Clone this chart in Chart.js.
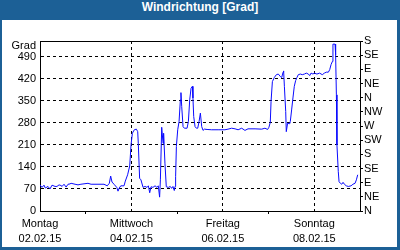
<!DOCTYPE html>
<html>
<head>
<meta charset="utf-8">
<script src="https://cdn.jsdelivr.net/npm/chart.js@4"></script>
<style>
body { margin: 0; background: #fff; }
#frame { position: relative; width: 400px; height: 250px; background: #1c6096; }
#title { position: absolute; left: 0; top: 0; width: 400px; height: 20px; line-height: 20px;
         text-align: center; color: #fff; font: bold 12px "Liberation Sans", sans-serif; }
#box { position: absolute; left: 2px; top: 20px; width: 395px; height: 227px; background: #fff; }
</style>
</head>
<body>
<div id="frame">
  <div id="title">Windrichtung [Grad]</div>
  <div id="box"><canvas id="windChart" width="395" height="227"></canvas></div>
</div>
<script>
// hours since Monday 02.02.15 00:00
const hours = [0, 1.05, 2.1, 2.8, 4.2, 5.25, 6.3, 7.9, 8.9, 10.0, 11.0, 11.6, 12.6, 13.7, 14.7, 15.75, 16.3, 18.4, 19.95, 21.5,
  25.2, 26.8, 30.45, 33.6, 35.3, 36.4, 37.1, 37.8, 38.85, 40.3, 40.95, 41.6, 42.4, 44.1, 44.8, 46.0, 47.1, 47.8, 48.5, 49.5,
  50.6, 51.3, 51.6, 52.3, 53.0, 54.1, 55.1, 56.2, 56.9, 57.6, 58.3, 59.3, 60.4, 61.4, 62.1, 62.8, 63.2, 63.9, 64.6, 64.9,
  65.6, 66.3, 67.4, 68.4, 69.1, 69.8, 70.5, 70.9, 71.2, 71.6, 72.3, 73.0, 73.7, 74.0, 74.4, 75.1, 75.8, 77.2, 77.9, 78.6,
  79.3, 80.0, 80.3, 80.7, 81.4, 82.1, 82.8, 83.5, 84.2, 84.9, 85.6, 86.3, 87.7, 90.1, 93.5, 97.1, 98.7, 100.6, 102.4, 104.0,
  105.9, 107.6, 109.2, 112.9, 116.4, 118.1, 119.5, 120.2, 120.9, 121.3, 122.0, 123.0, 124.1, 125.1, 126.2, 126.9, 127.6, 127.9, 128.3, 129.0,
  129.3, 130.0, 131.1, 131.4, 132.1, 132.8, 133.5, 134.2, 134.9, 135.6, 136.7, 137.7, 138.8, 139.8, 140.9, 141.6, 142.3, 143.3, 144.0, 145.4,
  146.8, 148.2, 149.3, 150.3, 151.4, 152.1, 152.8, 153.5, 153.8, 154.9, 155.2, 155.6, 155.9, 156.6, 157.0, 157.7, 158.4, 159.1, 159.8, 160.8,
  161.9, 163.3, 164.3, 165.4, 166.1, 166.8];
const degrees = [83, 75, 82, 73, 78, 70, 82, 78, 78, 83, 81, 78, 85, 76, 85, 86, 88, 85, 83, 85,
  88, 85, 85, 85, 80, 88, 111, 92, 85, 75, 63, 73, 80, 80, 95, 115, 143, 211, 247, 258,
  260, 252, 215, 104, 99, 75, 78, 75, 80, 58, 77, 75, 80, 75, 80, 44, 99, 266, 215, 247,
  152, 77, 75, 78, 72, 78, 65, 78, 109, 205, 258, 284, 353, 376, 332, 268, 263, 263, 284, 353,
  390, 396, 359, 300, 268, 263, 263, 284, 311, 268, 256, 260, 259, 258, 258, 258, 260, 263, 261, 258,
  263, 256, 261, 261, 260, 263, 259, 266, 282, 348, 411, 424, 433, 435, 427, 424, 441, 445, 396, 316,
  252, 279, 277, 284, 321, 359, 396, 414, 424, 433, 435, 433, 435, 438, 435, 430, 438, 435, 438, 435,
  438, 433, 438, 441, 441, 449, 465, 475, 530, 530, 496, 369, 210, 125, 93, 88, 85, 91, 85, 80,
  78, 80, 85, 88, 99, 115];

const labelHours = [0, 48, 96, 144];
const labelDays = ['Montag', 'Mittwoch', 'Freitag', 'Sonntag'];
const labelDates = ['02.02.15', '04.02.15', '06.02.15', '08.02.15'];
const gridHours = [48, 96, 144];
const minorHours = [24, 72, 120];

const degreeTicks = [0, 70, 140, 210, 280, 350, 420, 490];
const compassLabels = ['N', 'NE', 'E', 'SE', 'S', 'SW', 'W', 'NW', 'N', 'NE', 'E', 'SE', 'S'];
const unitLabel = 'Grad';
const yMax = 540;

Chart.defaults.font.family = '"Liberation Sans", Arial, sans-serif';
Chart.defaults.font.size = 11;
Chart.defaults.color = '#000';

// top border of the plot box and the unit text
const frameAndUnit = {
    id: 'frameAndUnit',
    afterDraw(chart) {
        const { ctx, chartArea: a, scales } = chart;
        ctx.save();
        ctx.strokeStyle = '#000';
        ctx.lineWidth = 1;
        ctx.beginPath();
        ctx.moveTo(a.left, a.top + 0.5);
        ctx.lineTo(a.right, a.top + 0.5);
        ctx.stroke();
        ctx.fillStyle = '#000';
        ctx.font = '11px "Liberation Sans", Arial, sans-serif';
        ctx.textAlign = 'right';
        ctx.textBaseline = 'middle';
        ctx.fillText(unitLabel, a.left - 4, scales.y.getPixelForValue(yMax) + 5);
        ctx.restore();
    }
};

const ctx = document.getElementById('windChart').getContext('2d');
new Chart(ctx, {
    type: 'line',
    data: {
        datasets: [{
            data: hours.map((h, i) => ({ x: h, y: degrees[i] })),
            borderColor: '#0a0aff',
            borderWidth: 1,
            pointRadius: 0,
            tension: 0,
            fill: false
        }]
    },
    options: {
        responsive: false,
        animation: false,
        layout: { padding: { top: 21, left: 0, right: 0, bottom: 0 } },
        plugins: { legend: { display: false }, tooltip: { enabled: false } },
        scales: {
            x: {
                type: 'linear',
                min: 0,
                max: 168,
                afterBuildTicks: s => { s.ticks = [0, 24, 48, 72, 96, 120, 144, 168].map(v => ({ value: v })); },
                afterFit: s => { s.height = 36; },
                ticks: {
                    autoSkip: false,
                    maxRotation: 0,
                    padding: 3,
                    font: { lineHeight: 1.35 },
                    callback: v => {
                        const i = labelHours.indexOf(v);
                        return i < 0 ? '' : [labelDays[i], labelDates[i]];
                    }
                },
                grid: {
                    color: c => (c.tick && gridHours.includes(c.tick.value)) ? '#000' : 'rgba(0,0,0,0)',
                    tickColor: c => (c.tick && minorHours.includes(c.tick.value)) ? '#000' : 'rgba(0,0,0,0)',
                    tickLength: 3
                },
                border: { color: '#000', dash: [3, 3] }
            },
            y: {
                min: 0,
                max: yMax,
                afterBuildTicks: s => { s.ticks = degreeTicks.map(v => ({ value: v })); },
                afterFit: s => { s.width = 38; },
                ticks: { padding: 4, autoSkip: false },
                grid: {
                    color: c => (c.tick && c.tick.value > 0) ? '#000' : 'rgba(0,0,0,0)',
                    drawTicks: false
                },
                border: { color: '#000', dash: [3, 3] }
            },
            compass: {
                position: 'right',
                min: 0,
                max: yMax,
                afterBuildTicks: s => { s.ticks = compassLabels.map((_, i) => ({ value: i * 45 })); },
                afterFit: s => { s.width = 37; },
                ticks: { padding: 1, autoSkip: false, callback: (v, i) => compassLabels[i] },
                grid: { drawOnChartArea: false, tickLength: 3, color: '#000' },
                border: { color: '#000' }
            }
        }
    },
    plugins: [frameAndUnit]
});
</script>
</body>
</html>
